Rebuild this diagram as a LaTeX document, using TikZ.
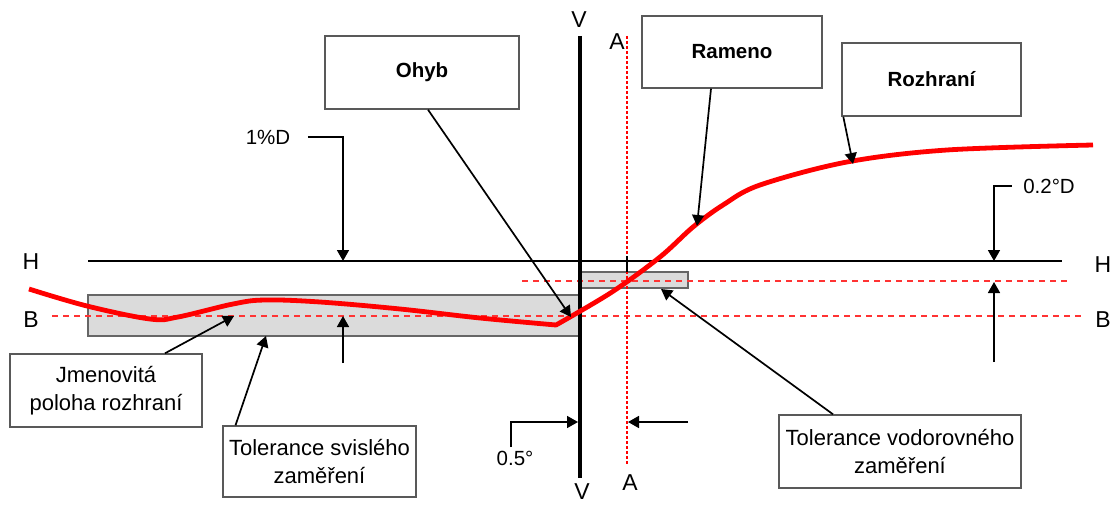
\documentclass[tikz,border=0pt]{standalone}
\usepackage{fontspec}
\setmainfont{Liberation Sans}
\usetikzlibrary{arrows.meta}

\begin{document}
\begin{tikzpicture}[x=1pt, y=-1pt, font=\fontsize{22}{28}\selectfont,
  labelbox/.style={draw=black!65, line width=1.4pt, fill=white, align=center, inner sep=0pt},
  tolband/.style={draw=black!60, line width=1.1pt, fill=black!14},
  refline/.style={red!80, line width=1.2pt, dash pattern=on 6pt off 5pt},
  pointer/.style={line width=1.7pt, -{Triangle[length=11pt,width=12pt]}},
  axislabel/.style={font=\fontsize{23}{26}\selectfont},
  dimlabel/.style={font=\fontsize{20.5}{24}\selectfont},
  boldlabel/.style={font=\fontsize{20.5}{26}\selectfont\bfseries}]
  \useasboundingbox (0,0) rectangle (1113,505);

  % tolerance bands
  \filldraw[tolband] (88,295) rectangle (580,336);
  \filldraw[tolband] (580,272) rectangle (688,288);

  % B and upper tolerance -- red dashed
  \draw[refline] (52,316) -- (1082,316);
  \draw[refline] (522,281) -- (1068,281);

  % A -- red dotted vertical
  \draw[red, line width=1.4pt, dash pattern=on 3pt off 2pt] (627,36) -- (627,465);
  \draw[line width=1.3pt] (627,256) -- (627,272);

  % H and V -- black axes
  \draw[line width=2.2pt] (88,261) -- (1062,261);
  \draw[line width=3.6pt] (580,36) -- (580,478);

  \node[axislabel] (hL) at (31,262) {H};
  \node[axislabel] (hR) at (1103,265) {H};
  \node[axislabel] (bL) at (31,320) {B};
  \node[axislabel] (bR) at (1103,320) {B};
  \node[axislabel] (vT) at (579,20) {V};
  \node[axislabel] (vB) at (582,492) {V};
  \node[axislabel] (aT) at (617,42) {A};
  \node[axislabel] (aB) at (630,483) {A};

  % interface -- thick red curve, kink at the bend
  \draw[red, line width=4.8pt, line join=round]
    plot[smooth, tension=0.6] coordinates {
      (29,289) (87,306) (150,319) (178,317) (233,304) (265,300)
      (320,302) (400,309) (480,318) (556,325)
    }
    -- plot[smooth, tension=0.55] coordinates {
      (556,325) (612,292) (660,257) (693,227) (723,205) (760,185)
      (847,162) (947,150) (1093,145)
    };

  % label boxes
  \node[labelbox, boldlabel, minimum width=194pt, minimum height=73pt]
    (ohyb) at (422,72.5) {Ohyb};
  \node[labelbox, boldlabel, minimum width=180pt, minimum height=72pt]
    (rameno) at (732,52) {Rameno};
  \node[labelbox, boldlabel, minimum width=179pt, minimum height=73pt]
    (rozhrani) at (931.5,79.5) {Rozhraní};
  \node[labelbox, minimum width=192pt, minimum height=73pt]
    (jmenovita) at (106,390.5) {Jmenovitá\\poloha rozhraní};
  \node[labelbox, minimum width=193pt, minimum height=71pt]
    (tolsvis) at (319.5,461.5) {Tolerance svislého\\zaměření};
  \node[labelbox, minimum width=242pt, minimum height=73pt]
    (tolvodo) at (900,451.5) {Tolerance vodorovného\\zaměření};

  % arrow tips
  \coordinate (ohybTip) at (571,317);
  \coordinate (ramenoTip) at (697,226);
  \coordinate (rozhraniTip) at (853,164);
  \coordinate (jmenTip) at (234,316);
  \coordinate (svisTip) at (266,336);
  \coordinate (vodoTip) at (661,289);

  \draw[pointer] ([xshift=6pt]ohyb.south) -- (ohybTip);
  \draw[pointer] ([xshift=-21pt]rameno.south) -- (ramenoTip);
  \draw[pointer] ([xshift=2pt]rozhrani.south west) -- (rozhraniTip);
  \draw[pointer] ([xshift=59pt]jmenovita.north) -- (jmenTip);
  \draw[pointer] ([xshift=-84pt]tolsvis.north) -- (svisTip);
  \draw[pointer] ([xshift=-67pt]tolvodo.north) -- (vodoTip);

  % 1%D -- vertical tolerance on the left
  \node[dimlabel] (onepct) at (268,137) {1\%D};
  \coordinate (onepctH) at (343,261);
  \coordinate (onepctB) at (343,316);
  \coordinate (onepctLow) at (343,363);
  \draw[pointer] ([xshift=14pt]onepct.east) -| (onepctH);
  \draw[pointer] (onepctLow) -- (onepctB);

  % 0.2°D -- vertical tolerance on the right
  \node[dimlabel] (twopct) at (1049,186) {0.2°D};
  \coordinate (twopctH) at (994,261);
  \coordinate (twopctU) at (994,282);
  \coordinate (twopctLow) at (994,362);
  \draw[pointer] ([xshift=-8pt]twopct.west) -| (twopctH);
  \draw[pointer] (twopctLow) -- (twopctU);

  % 0.5° -- horizontal tolerance
  \node[dimlabel] (halfdeg) at (515,458) {0.5°};
  \coordinate (halfV) at (578,422);
  \coordinate (halfA) at (628,422);
  \coordinate (halfRight) at (688,422);
  \draw[pointer] ([xshift=-4pt]halfdeg.north) |- (halfV);
  \draw[pointer] (halfRight) -- (halfA);

\end{tikzpicture}
\end{document}
